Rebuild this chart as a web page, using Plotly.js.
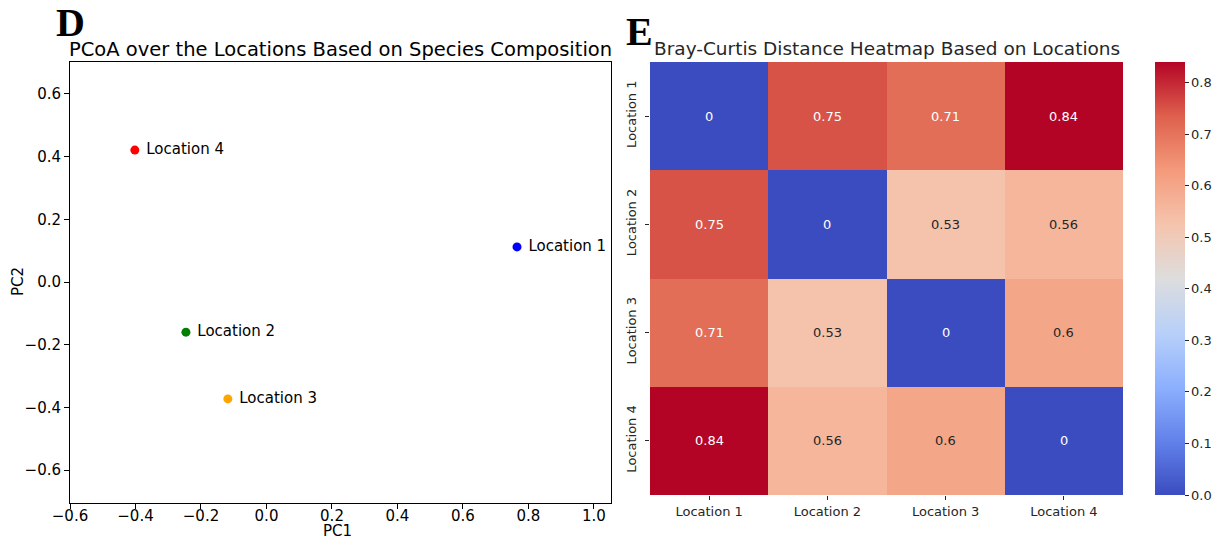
<!DOCTYPE html>
<html><head><meta charset="utf-8">
<script src="https://cdn.plot.ly/plotly-3.0.1.min.js"></script>
<style>html,body{margin:0;padding:0;background:#fff}#g{width:1213px;height:539px}</style>
</head><body><div id="g"></div>
<script>
const locations = ["Location 1","Location 2","Location 3","Location 4"];
const pc1 = [0.765, -0.246, -0.118, -0.402];
const pc2 = [0.112, -0.160, -0.373, 0.421];
const pointColors = ["blue","green","orange","red"];
const dist = [
  [0, 0.75, 0.71, 0.84],
  [0.75, 0, 0.53, 0.56],
  [0.71, 0.53, 0, 0.6],
  [0.84, 0.56, 0.6, 0]
];
const xTicks = [-0.6,-0.4,-0.2,0.0,0.2,0.4,0.6,0.8,1.0];
const yTicks = [-0.6,-0.4,-0.2,0.0,0.2,0.4,0.6];
const cbTicks = [0,0.1,0.2,0.3,0.4,0.5,0.6,0.7,0.8];

const W=1213,H=539,MR=60;
const px=v=>v/(W-MR), py=v=>1-v/H;
const coolwarm = [
 [0,'rgb(59,76,192)'],[0.125,'rgb(98,130,234)'],[0.25,'rgb(141,176,254)'],
 [0.375,'rgb(184,208,249)'],[0.5,'rgb(221,221,221)'],[0.625,'rgb(245,196,173)'],
 [0.75,'rgb(244,154,123)'],[0.875,'rgb(222,96,77)'],[1,'rgb(180,4,38)']
];
const zmax = 0.84;
const font = "DejaVu Sans, sans-serif";

const traces = [{
  type:'scatter', mode:'markers+text', x:pc1, y:pc2,
  text:locations.map(s=>'\u00a0'+s), textposition:'middle right',
  textfont:{family:font,size:15,color:'#000'},
  marker:{color:pointColors,size:9}, xaxis:'x', yaxis:'y', hoverinfo:'skip', cliponaxis:false
},{
  type:'heatmap', z:dist, x:locations, y:locations, xaxis:'x2', yaxis:'y2',
  colorscale:coolwarm, zmin:0, zmax:zmax, xgap:0, ygap:0,
  colorbar:{x:px(1155), xanchor:'left', xpad:0, ypad:0, y:py(495), yanchor:'bottom', len:(495-62)/H, lenmode:'fraction',
    thickness:30, thicknessmode:'pixels', outlinewidth:0, tickvals:cbTicks, ticktext:cbTicks.map(v=>v.toFixed(1)),
    ticks:'outside', ticklen:4, tickcolor:'#262626', tickfont:{family:font,size:13,color:'#262626'}}
}];

const annotations = [];
dist.forEach((row,i)=>row.forEach((v,j)=>{
  const dark = v/zmax < 0.2 || v/zmax > 0.8;
  annotations.push({x:locations[j], y:locations[i], xref:'x2', yref:'y2', text:String(v), showarrow:false,
    font:{family:font,size:13,color: dark?'#ffffff':'#262626'}});
}));
annotations.push({text:'<b>D</b>', x:px(70), y:py(23), xref:'paper', yref:'paper', xanchor:'center', yanchor:'middle', borderpad:0,
  showarrow:false, font:{family:'Liberation Serif, serif', size:40, color:'#000'}});
annotations.push({text:'<b>E</b>', x:px(639), y:py(31), xref:'paper', yref:'paper', xanchor:'center', yanchor:'middle', borderpad:0,
  showarrow:false, font:{family:'Liberation Serif, serif', size:40, color:'#000'}});
annotations.push({text:'PCoA over the Locations Based on Species Composition', x:px(340), y:py(50), xref:'paper', yref:'paper', borderpad:0,
  xanchor:'center', yanchor:'middle', showarrow:false, font:{family:font,size:19.5,color:'#000'}});
annotations.push({text:'Bray-Curtis Distance Heatmap Based on Locations', x:px(887), y:py(48), xref:'paper', yref:'paper', borderpad:0,
  xanchor:'center', yanchor:'middle', showarrow:false, font:{family:font,size:18.5,color:'#262626'}});
annotations.push({text:'PC1', x:px(337), y:py(531), xref:'paper', yref:'paper', borderpad:0,
  xanchor:'center', yanchor:'middle', showarrow:false, font:{family:font,size:15,color:'#000'}});
annotations.push({text:'PC2', x:px(18), y:py(282), xref:'paper', yref:'paper', textangle:-90, borderpad:0,
  xanchor:'center', yanchor:'middle', showarrow:false, font:{family:font,size:15,color:'#000'}});

const layout = {
  width:W, height:H, margin:{l:0,r:MR,t:0,b:0}, paper_bgcolor:'#fff', plot_bgcolor:'#fff',
  showlegend:false, font:{family:font},
  xaxis:{domain:[px(70),px(611)], range:[-0.6,1.052], tickvals:xTicks, ticktext:xTicks.map(v=>v<0?'\u2212'+Math.abs(v).toFixed(1):v.toFixed(1)),
    showgrid:false, zeroline:false, showline:true, mirror:true, linecolor:'#000', linewidth:1, ticklabelstandoff:-6,
    ticks:'outside', ticklen:5, tickcolor:'#000', tickfont:{size:15,color:'#000'}, anchor:'y', automargin:false},
  yaxis:{domain:[py(503),py(62)], range:[-0.705,0.702], tickvals:yTicks, ticktext:yTicks.map(v=>v<0?'\u2212'+Math.abs(v).toFixed(1):v.toFixed(1)),
    showgrid:false, zeroline:false, showline:true, mirror:true, linecolor:'#000', linewidth:1,
    ticks:'outside', ticklen:5, tickcolor:'#000', tickfont:{size:15,color:'#000'}, anchor:'x', automargin:false},
  xaxis2:{domain:[px(650),px(1123)], anchor:'y2', showgrid:false, zeroline:false, showline:false, automargin:false,
    ticks:'outside', ticklen:4, tickcolor:'#262626', tickfont:{size:13,color:'#262626'}},
  yaxis2:{domain:[py(495),py(62)], anchor:'x2', autorange:'reversed', showgrid:false, zeroline:false, showline:false, automargin:false,
    ticks:'outside', ticklen:4, tickcolor:'#262626', tickangle:-90, ticklabelstandoff:4, tickfont:{size:13,color:'#262626'}},
  annotations:annotations
};
Plotly.newPlot('g', traces, layout, {displayModeBar:false, staticPlot:true});
</script></body></html>
